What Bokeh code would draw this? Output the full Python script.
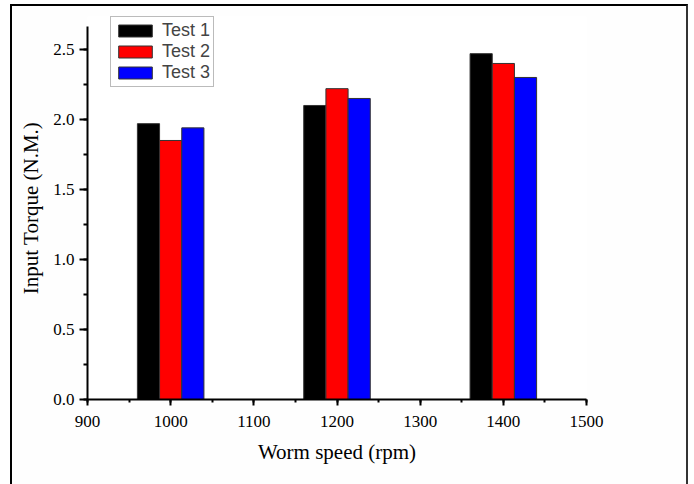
from bokeh.plotting import figure
from bokeh.models import ColumnDataSource, Range1d, SingleIntervalTicker, PrintfTickFormatter, Legend
from bokeh.transform import dodge
from bokeh.embed import file_html
from bokeh.resources import INLINE

speeds = [1000, 1200, 1400]
test1 = [1.97, 2.10, 2.47]
test2 = [1.85, 2.22, 2.40]
test3 = [1.94, 2.15, 2.30]
series_names = ["Test 1", "Test 2", "Test 3"]
colors = ["#000000", "#FF0000", "#0000FF"]

src = ColumnDataSource(dict(speed=speeds, t1=test1, t2=test2, t3=test3))

bw = 80 / 3
y_top = 2.664          # top of the drawn y axis
px_per_unit = 140.0    # vertical scale
extra_px = 10          # frame extends above axis top (room for legend)

p = figure(output_backend="svg", toolbar_location=None,
           frame_width=499, frame_height=383,
           min_border_left=75, min_border_top=10, min_border_right=100, min_border_bottom=85,
           x_range=Range1d(900, 1500),
           y_range=Range1d(0, y_top + extra_px / px_per_unit))
p.margin = (4, 0, 0, 10)
p.styles = {"border-top": "2px solid #000", "border-left": "2px solid #000",
            "border-right": "2px solid #333"}

p.background_fill_color = "#FFFFFF"
p.border_fill_color = "#FEFEFE"
p.outline_line_color = None
p.xgrid.visible = False
p.ygrid.visible = False

renderers = []
for i, (col, c) in enumerate(zip(["t1", "t2", "t3"], colors)):
    r = p.vbar(x=dodge("speed", (i - 1) * bw), top=col, width=bw, bottom=0, source=src,
               fill_color=c, line_color="#333333", line_width=1)
    renderers.append(r)

legend = Legend(items=[(n, [r]) for n, r in zip(series_names, renderers)],
                location=(23, 312))
legend.label_text_font = "Liberation Sans"
legend.label_text_font_size = "18px"
legend.glyph_width = 42
legend.glyph_height = 15
legend.label_height = 15
legend.spacing = 0
legend.padding = 3
legend.margin = 0
legend.label_standoff = 6
legend.border_line_color = "#777777"
legend.border_line_width = 1
legend.background_fill_alpha = 1
p.add_layout(legend)

for ax in (p.xaxis[0], p.yaxis[0]):
    ax.axis_line_width = 2
    ax.axis_line_color = "#000000"
    ax.major_tick_line_width = 2
    ax.minor_tick_line_width = 2
    ax.major_tick_in = 0
    ax.minor_tick_in = 0
    ax.major_label_text_font = "Liberation Serif"
    ax.major_label_text_font_size = "17px"
    ax.major_label_text_color = "#000000"
    ax.axis_label_text_font = "Liberation Serif"
    ax.axis_label_text_font_style = "normal"
    ax.axis_label_text_color = "#000000"

p.yaxis.bounds = (0, y_top)
p.xaxis.ticker = SingleIntervalTicker(interval=100, num_minor_ticks=2)
p.yaxis.ticker = SingleIntervalTicker(interval=0.5, num_minor_ticks=2)
p.yaxis.formatter = PrintfTickFormatter(format="%.1f")
p.xaxis.major_tick_out = 6
p.xaxis.minor_tick_out = 3
p.yaxis.major_tick_out = 8
p.yaxis.minor_tick_out = 4
p.xaxis.major_label_standoff = 10
p.yaxis.major_label_standoff = 5
p.xaxis.axis_label = "Worm speed (rpm)"
p.yaxis.axis_label = "Input Torque (N.M.)"
p.xaxis.axis_label_text_font_size = "21px"
p.yaxis.axis_label_text_font_size = "21px"
p.xaxis.axis_label_standoff = 10
p.yaxis.axis_label_standoff = 7

open("out.html", "w").write(file_html(p, INLINE))
